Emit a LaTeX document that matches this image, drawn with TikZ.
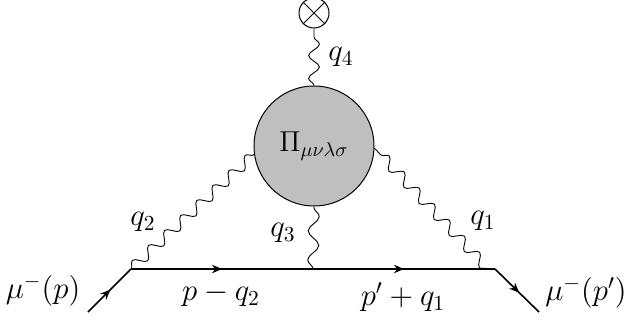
\documentclass[tikz,border=0pt]{standalone}
\usepackage{amsmath,amssymb}
\usepackage{xcolor}
\usetikzlibrary{positioning,arrows.meta,decorations.markings,decorations.pathmorphing}

\begin{document}
\begin{tikzpicture}[
  x=0.5pt, y=-0.5pt,
  font=\Large,
  fermion/.style = {line width=0.8pt, postaction={decorate},
                    decoration={markings, mark=at position #1 with
                    {\arrow{Stealth[length=5pt,width=4.2pt]}}}},
  photon/.style = {line width=0.45pt, decorate,
                   decoration={snake, segment length=#1, amplitude=2.7pt}},
  photon/.default = 11pt,
  blob/.style = {draw, circle, line width=0.5pt, fill=black!25,
                 inner sep=0pt, minimum size=60pt},
  vertexop/.style = {draw, circle, line width=0.5pt, fill=white,
                     inner sep=0pt, minimum size=15pt},
  lbl/.style = {scale=1.07, transform shape}
]
\useasboundingbox (0,0) rectangle (626,322);

% ---------- fermion line ----------------------------------------------------
\coordinate (in) at (88,312);
\coordinate (v2) at (131,269);
\coordinate (v1) at (495,269);
\coordinate (out) at (539,312);
\coordinate (v1p) at (488,269);
\coordinate (v3) at (313,269);

\draw[fermion=0.52] (in) -- (v2);
\draw[fermion=0.5] (v2) -- (v3);
\draw[fermion=0.5] (v3) -- (v1);
\draw[fermion=0.55] (v1) -- (out);

% ---------- blob and operator ------------------------------------------------
\node[blob] (pi) at (314,146) {$\Pi_{\mu\nu\lambda\sigma}$};
\node[vertexop, above=28.5pt of pi] (op) {};
\draw (op.45) -- (op.225);
\draw (op.135) -- (op.315);

% ---------- photons ----------------------------------------------------------
\draw[photon=11.4pt] (pi.north) -- (op.south);
\draw[photon=14.5pt] (v3) -- (pi.south);
\draw[photon] (v2) -- (pi.188);
\draw[photon] (v1p) -- (pi.358);

% ---------- labels -----------------------------------------------------------
\node[lbl] (lq1) at (483,221) {$q_1$};
\node[lbl] (lq2) at (143,222) {$q_2$};
\node[lbl] (lq3) at (283,233) {$q_3$};
\node[lbl] (lq4) at (341,57) {$q_4$};
\node[lbl] (lp1) at (221,295) {$p-q_2$};
\node[lbl] (lp2) at (403,297) {$p'+q_1$};
\node[lbl] (lin) at (43,291) {$\mu^{-}(p)$};
\node[lbl] (lout) at (586,293) {$\mu^{-}(p')$};

\end{tikzpicture}
\end{document}
